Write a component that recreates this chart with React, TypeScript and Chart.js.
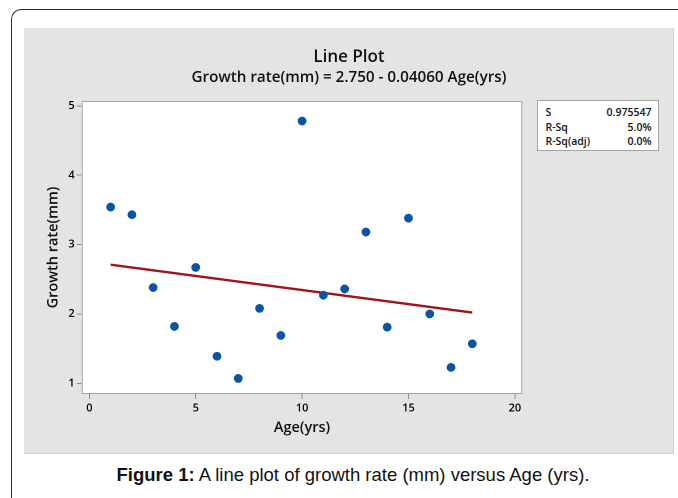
import React, { useEffect, useRef } from "react";
import { Chart, registerables } from "chart.js";

Chart.register(...registerables);

const ages = [1, 2, 3, 4, 5, 6, 7, 8, 9, 10, 11, 12, 13, 14, 15, 16, 17, 18];
const growthRates = [3.54, 3.43, 2.38, 1.82, 2.67, 1.39, 1.07, 2.08, 1.69, 4.78, 2.27, 2.36, 3.18, 1.81, 3.38, 2.0, 1.23, 1.57];
const fitAges = [1, 18];
const fitGrowth = [2.71, 2.02];
const xTickValues = [0, 5, 10, 15, 20];
const yTickValues = [1, 2, 3, 4, 5];
const statLabels = ["S", "R-Sq", "R-Sq(adj)"];
const statValues = ["0.975547", "5.0%", "0.0%"];

const titleText = "Line Plot";
const subtitleText = "Growth rate(mm) = 2.750 - 0.04060 Age(yrs)";
const xTitle = "Age(yrs)";
const yTitle = "Growth rate(mm)";

const FONT = "'Open Sans', 'Noto Sans', sans-serif";

const plotFrame = {
  id: "plotFrame",
  beforeDraw(chart: any) {
    const { ctx, chartArea: a } = chart;
    ctx.save();
    ctx.fillStyle = "#ffffff";
    ctx.fillRect(a.left, a.top, a.right - a.left, a.bottom - a.top);
    ctx.restore();
  },
  beforeDatasetsDraw(chart: any) {
    const { ctx, chartArea: a } = chart;
    ctx.save();
    ctx.strokeStyle = "#a3a3a3";
    ctx.lineWidth = 1;
    ctx.strokeRect(a.left + 0.5, a.top + 0.5, a.right - a.left - 1, a.bottom - a.top - 1);
    ctx.restore();
  },
};

export default function App() {
  const ref = useRef<HTMLCanvasElement>(null);

  useEffect(() => {
    if (!ref.current) return;
    const chart = new Chart(ref.current, {
      type: "scatter",
      data: {
        datasets: [
          {
            label: "Growth rate",
            data: ages.map((a, i) => ({ x: a, y: growthRates[i] })),
            backgroundColor: "#0a55a6",
            borderColor: "#0a55a6",
            pointRadius: 3.9,
            pointHoverRadius: 3.9,
            showLine: false,
          },
          {
            label: "Fit",
            data: fitAges.map((a, i) => ({ x: a, y: fitGrowth[i] })),
            borderColor: "#a3141a",
            backgroundColor: "#a3141a",
            borderWidth: 2.4,
            pointRadius: 0,
            showLine: true,
            yAxisID: "y",
          },
        ],
      },
      options: {
        animation: false,
        responsive: false,
        devicePixelRatio: 2,
        layout: { padding: 0 },
        plugins: {
          legend: { display: false },
          tooltip: { enabled: false },
          title: {
            display: true,
            text: titleText,
            color: "#111",
            font: { family: FONT, size: 17, weight: "600" },
            padding: { top: 19, bottom: 1 },
          },
          subtitle: {
            display: true,
            text: subtitleText,
            color: "#111",
            font: { family: FONT, size: 15.2, weight: "600" },
            padding: { top: 0, bottom: 14.4 },
          },
        },
        scales: {
          x: {
            type: "linear",
            min: -0.36,
            max: 20.35,
            afterBuildTicks: (s: any) => {
              s.ticks = xTickValues.map((v) => ({ value: v }));
            },
            afterFit: (s: any) => {
              s.height = 60;
            },
            grid: { drawOnChartArea: false, drawTicks: true, tickLength: 5, color: "#8c8c8c" },
            border: { display: false },
            ticks: { color: "#000", padding: 3, font: { family: FONT, size: 11, weight: "600" }, maxRotation: 0 },
            title: {
              display: true,
              text: xTitle,
              color: "#111",
              font: { family: FONT, size: 14.5, weight: "600" },
              padding: { top: 0, bottom: 17.3 },
            },
          },
          y: {
            type: "linear",
            position: "left",
            min: 0.846,
            max: 5.068,
            afterBuildTicks: (s: any) => {
              s.ticks = yTickValues.map((v) => ({ value: v }));
            },
            afterFit: (s: any) => {
              s.width = 57.7;
            },
            grid: { drawOnChartArea: false, drawTicks: true, tickLength: 5, color: "#8c8c8c" },
            border: { display: false },
            ticks: { color: "#000", padding: 2, font: { family: FONT, size: 11, weight: "600" } },
            title: {
              display: true,
              text: yTitle,
              color: "#111",
              font: { family: FONT, size: 14.5, weight: "600" },
              padding: { top: 20.5, bottom: 0 },
            },
          },
          y2: {
            type: "linear",
            position: "right",
            display: true,
            afterFit: (s: any) => {
              s.width = 151.7;
            },
            grid: { display: false },
            border: { display: false },
            ticks: { display: false },
          },
        },
      },
      plugins: [plotFrame],
    });
    return () => chart.destroy();
  }, []);

  return (
    <div
      style={{
        position: "absolute",
        left: 0,
        top: 0,
        width: 678,
        height: 498,
        overflow: "hidden",
        background: "#ffffff",
      }}
    >
      <div
        style={{
          position: "absolute",
          left: 11,
          top: 9,
          width: 700,
          height: 520,
          borderTop: "1.5px solid #2a2a2a",
          borderLeft: "1.5px solid #2a2a2a",
          borderTopLeftRadius: 10,
          boxSizing: "border-box",
        }}
      />
      <div
        style={{
          position: "absolute",
          left: 24,
          top: 28,
          width: 650,
          height: 426,
          background: "#e4e4e4",
          boxSizing: "border-box",
          borderRight: "1px solid #d0d0d0",
          borderBottom: "1px solid #cfcfcf",
        }}
      >
        <canvas ref={ref} width={650} height={426} style={{ width: 650, height: 426, display: "block" }} />
      </div>
      <div
        style={{
          position: "absolute",
          left: 536.5,
          top: 100,
          width: 122,
          height: 51,
          background: "#fff",
          border: "1px solid #a3a3a3",
          boxSizing: "border-box",
          fontFamily: FONT,
          fontSize: 10.5,
          fontWeight: 600,
          color: "#111",
          padding: "4px 6px 0 8px",
          lineHeight: "14.5px",
        }}
      >
        {statLabels.map((l, i) => (
          <div key={l} style={{ display: "flex", justifyContent: "space-between" }}>
            <span>{l}</span>
            <span>{statValues[i]}</span>
          </div>
        ))}
      </div>
      <div
        style={{
          position: "absolute",
          left: 0,
          width: 706,
          top: 464,
          textAlign: "center",
          fontFamily: "'Liberation Sans', Arial, sans-serif",
          fontSize: 18.5,
          color: "#111",
          whiteSpace: "nowrap",
        }}
      >
        <b>Figure 1:</b> A line plot of growth rate (mm) versus Age (yrs).
      </div>
    </div>
  );
}
